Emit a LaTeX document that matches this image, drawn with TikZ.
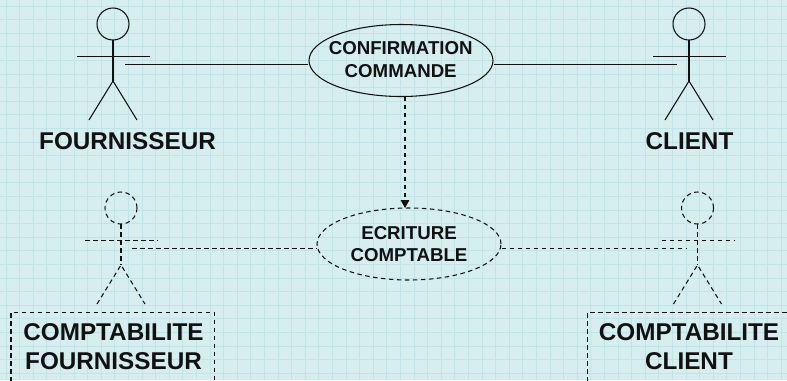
\documentclass[tikz,border=0pt]{standalone}
\usepackage{fontspec}
\setmainfont{Liberation Sans}
\definecolor{bgc}{HTML}{D7EEF0}
\definecolor{gridc}{HTML}{C2E4E7}
\definecolor{inkc}{HTML}{111111}
\usetikzlibrary{shapes.geometric,arrows.meta}
\tikzset{
  px/.style={x=0.75pt,y=-0.75pt},
  solidln/.style={draw=inkc,line width=0.8pt},
  dashln/.style={draw=inkc,line width=0.8pt,dash pattern=on 3.4pt off 2.6pt},
  usecase/.style={ellipse,minimum width=138pt,minimum height=54pt,inner sep=0pt},
  casetext/.style={align=center,inner sep=0pt,text=inkc,font=\bfseries\fontsize{14}{16.7}\selectfont},
  actorlabel/.style={align=center,inner sep=0pt,font=\bfseries\fontsize{18.2}{22}\selectfont,text=inkc},
}
\newcommand{\stickfig}[3]{%
  \draw[#3] (#1,#2) circle (12pt);
  \draw[#3] (#1,#2+16) -- (#1,#2+57);
  \draw[#3] (#1-36,#2+32.5) -- (#1+36.5,#2+32.5);
  \draw[#3] (#1-24,#2+96) -- (#1,#2+57) -- (#1+24,#2+96);
}
\begin{document}
\begin{tikzpicture}[px]
\useasboundingbox (0,0) rectangle (787,380);
\fill[bgc] (0,0) rectangle (787,380);
\foreach \i in {0,...,58}{\draw[gridc,line width=0.75pt] (\i*13.6+6,0) -- (\i*13.6+6,380);}
\foreach \i in {0,...,28}{\draw[gridc,line width=0.75pt] (0,\i*13.6+6) -- (787,\i*13.6+6);}
\stickfig{113}{24}{solidln}
\stickfig{689}{24}{solidln}
\stickfig{121}{208}{dashln}
\stickfig{697.5}{208}{dashln}
\node[usecase,solidln] (conf) at (401,60.5) {};
\node[casetext] (conft) at (400.7,59.5) {CONFIRMATION\\COMMANDE};
\node[usecase,dashln] (ecr) at (409,244) {};
\node[casetext] (ecrt) at (409,244) {ECRITURE\\COMPTABLE};
\coordinate (a1) at (125,64.5);
\coordinate (a2) at (677,64.5);
\coordinate (a3) at (132,248.5);
\coordinate (a4) at (686,248.5);
\coordinate (s) at (405,96.5);
\coordinate (e) at (405,208);
\draw[solidln] (a1) -- (conf.west |- a1);
\draw[solidln] (conf.east |- a2) -- (a2);
\draw[dashln] (a3) -- (ecr.west |- a3);
\draw[dashln] (ecr.east |- a4) -- (a4);
\draw[dashln,-{Triangle[length=6pt,width=6.5pt]}] (s) -- (e);
\node[actorlabel] (f) at (127.5,141) {FOURNISSEUR};
\node[actorlabel] (c) at (689.5,141) {CLIENT};
\node[actorlabel] (cf) at (113.5,346.5) {COMPTABILITE\\FOURNISSEUR};
\node[actorlabel] (cc) at (689,346.5) {COMPTABILITE\\CLIENT};
\draw[dashln] (11,390) -- (11,312.5) -- (214.5,312.5) -- (214.5,390);
\draw[dashln] (587.5,390) -- (587.5,312.5) -- (795,312.5);
\end{tikzpicture}
\end{document}
